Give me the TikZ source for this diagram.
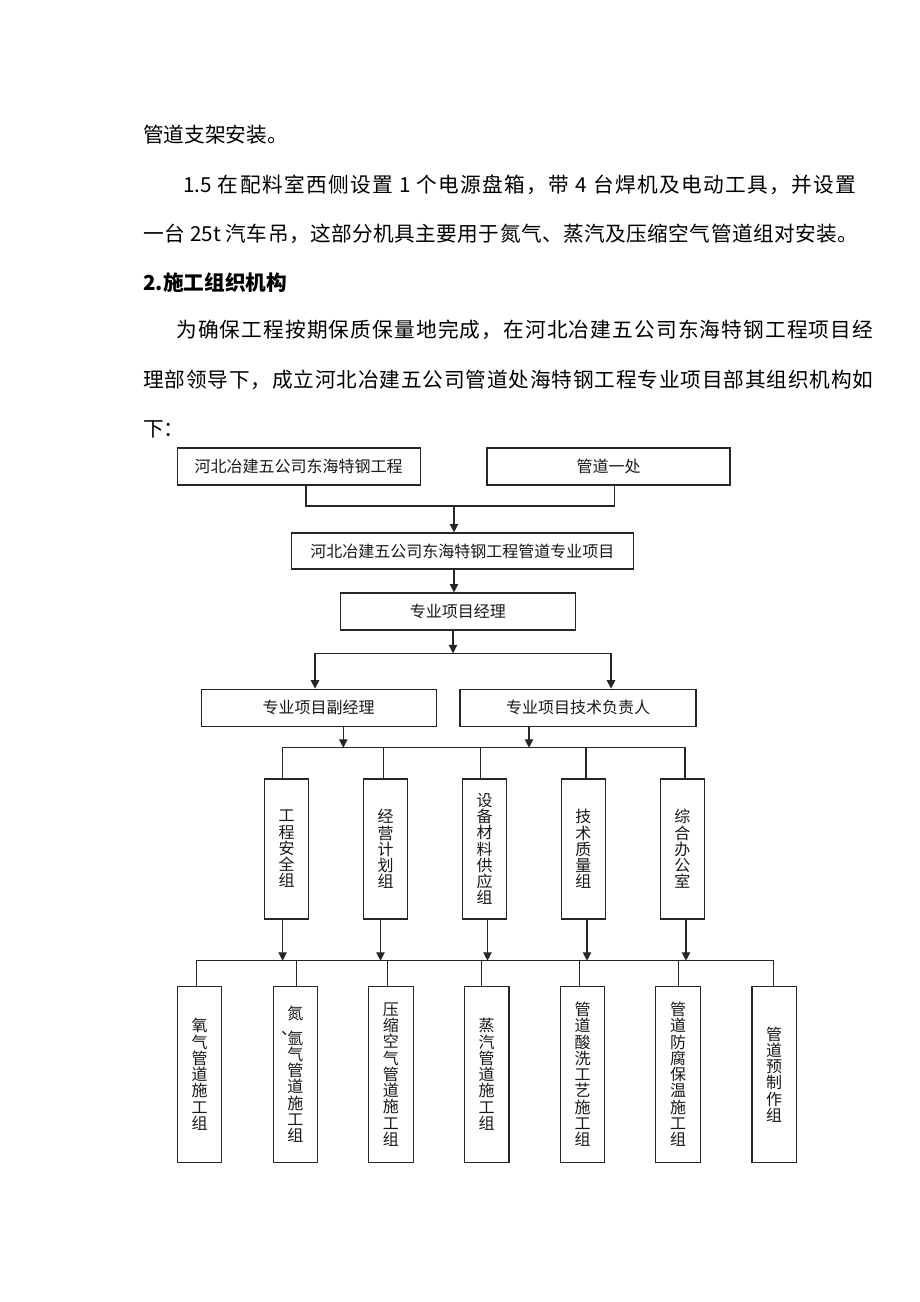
\documentclass[tikz,border=0pt]{standalone}
\usepackage{fontspec}
\setmainfont{Noto Sans CJK SC}
\usetikzlibrary{arrows.meta,calc}
\newcommand\bodyfnt{\fontsize{15.5pt}{18pt}\selectfont}
\newcommand\boxfnt{\fontsize{12pt}{12.2pt}\selectfont}
% spread characters evenly over a box
\def\spendmark{\spend}
\def\spaux#1{\def\sptmp{#1}\ifx\sptmp\spendmark\else\hskip 0pt plus 1fil #1\expandafter\spaux\fi}
\def\spfirst#1{#1\spaux}
\newcommand\spreadline[2]{\hbox to #1{\spfirst#2\spend}}
\begin{document}
\begin{tikzpicture}[x=0.75pt,y=-0.75pt,
  box/.style={draw=black!85,line width=0.9pt,inner sep=0pt,font=\boxfnt,align=center,text=black!90},
  hbox/.style={box,minimum height=27.75pt},
  mbox/.style={box,minimum width=33pt,minimum height=105pt},
  gbox/.style={box,minimum width=33.4pt,minimum height=131.6pt},
  ln/.style={line width=0.9pt,draw=black!85},
  arr/.style={ln,-{Triangle[length=6.3pt,width=6.3pt]}},
  body/.style={anchor=west,inner sep=0pt,font=\bodyfnt,text=black}]
\fill[white] (0,0) rectangle (920,1302);
\path[use as bounding box] (0,0) rectangle (920,1302);
% body text
\node[body] (t1) at (143,135) {管道支架安装。};
\node[body] (t2) at (183,185) {\spreadline{504.75pt}{{1.5\ }在配料室西侧设置{\ 1\ }个电源盘箱，带{\ 4\ }台焊机及电动工具，并设置}};
\node[body] (t3) at (143,234) {\spreadline{536.25pt}{一台{\ 25t\ }汽车吊，这部分机具主要用于氮气、蒸汽及压缩空气管道组对安装。}};
\node[body,font=\bodyfnt\bfseries] (t4) at (143,282.5) {2.施工组织机构};
\node[body] (t5) at (176,330) {\spreadline{522.75pt}{为确保工程按期保质保量地完成，在河北冶建五公司东海特钢工程项目经}};
\node[body] (t6) at (143,380) {\spreadline{547.5pt}{理部领导下，成立河北冶建五公司管道处海特钢工程专业项目部其组织机构如}};
\node[body] (t7) at (143,429) {下：};
% top boxes
\node[hbox,minimum width=182.25pt] (b1) at (298.7,466.5) {河北冶建五公司东海特钢工程};
\node[hbox,minimum width=182.25pt] (b2) at (608.5,466.5) {管道一处};
\node[hbox,minimum width=256.5pt,minimum height=27pt] (b3) at (462.3,551) {河北冶建五公司东海特钢工程管道专业项目};
\node[hbox,minimum width=176.25pt] (b4) at (457.8,611.5) {专业项目经理};
\node[hbox,minimum width=176.25pt] (b5) at (318.7,707.7) {专业项目副经理};
\node[hbox,minimum width=177pt] (b6) at (578,707.7) {专业项目技术负责人};
% middle boxes
\node[mbox] (m1) at (286.5,849) {工\\程\\安\\全\\组};
\node[mbox] (m2) at (385.5,849) {经\\营\\计\\划\\组};
\node[mbox] (m3) at (484.7,849) {设\\备\\材\\料\\供\\应\\组};
\node[mbox] (m4) at (583.3,849) {技\\术\\质\\量\\组};
\node[mbox] (m5) at (682.3,849) {综\\合\\办\\公\\室};
% bottom boxes
\node[gbox] (g1) at (199.6,1074.4) {氧\\气\\管\\道\\施\\工\\组};
\node[gbox] (g2) at (295.4,1074.4) {氮\\[6pt]\llap{︑}氩\\气\\管\\道\\施\\工\\组};
\node[gbox] (g3) at (390.9,1074.4) {压\\缩\\空\\气\\管\\道\\施\\工\\组};
\node[gbox] (g4) at (486.7,1074.4) {蒸\\汽\\管\\道\\施\\工\\组};
\node[gbox] (g5) at (582.5,1074.4) {管\\道\\酸\\洗\\工\\艺\\施\\工\\组};
\node[gbox] (g6) at (678.1,1074.4) {管\\道\\防\\腐\\保\\温\\施\\工\\组};
\node[gbox] (g7) at (774.2,1074.4) {管\\道\\预\\制\\作\\组};
% connectors level 1
\coordinate (j1) at (454,506);
\draw[ln] ($(b1.south)+(7.3,0)$) |- (j1) -| ($(b2.south)+(6,0)$);
\draw[arr] (j1) -- (j1 |- b3.north);
\draw[arr] (b3.south -| j1) -- (b4.north -| j1);
\coordinate (j2) at (453,653.3);
\draw[arr] (b4.south -| j2) -- (j2);
\draw[arr] (j2) -| ($(b5.north)+(-3.7,0)$);
\draw[arr] (j2) -| ($(b6.north)+(33,0)$);
% level 2
\coordinate (h3) at (0,747.7);
\coordinate (e5) at ($(b5.south)+(24.6,0)$);
\coordinate (e6) at ($(b6.south)+(-49,0)$);
\draw[arr] (e5) -- (e5 |- h3);
\draw[arr] (e6) -- (e6 |- h3);
\coordinate (ma1) at ($(m1.north)+(-4.2,0)$);
\coordinate (ma2) at ($(m2.north)+(-2.2,0)$);
\coordinate (ma3) at ($(m3.north)+(-4,0)$);
\coordinate (ma4) at ($(m4.north)+(2.7,0)$);
\coordinate (ma5) at ($(m5.north)+(2.7,0)$);
\draw[ln] (ma1) |- (ma5 |- h3) -- (ma5);
\foreach \i in {2,3,4} {\draw[ln] (ma\i |- h3) -- (ma\i);}
% level 3
\coordinate (h4) at (0,960.7);
\coordinate (mb1) at ($(m1.south)+(-3.9,0)$);
\coordinate (mb2) at ($(m2.south)+(-5,0)$);
\coordinate (mb3) at ($(m3.south)+(2.8,0)$);
\coordinate (mb4) at ($(m4.south)+(3.7,0)$);
\coordinate (mb5) at ($(m5.south)+(3.7,0)$);
\foreach \i in {1,...,5} {\draw[arr] (mb\i) -- (mb\i |- h4);}
\coordinate (ga1) at ($(g1.north)+(-3,0)$);
\coordinate (ga2) at ($(g2.north)+(1,0)$);
\coordinate (ga3) at ($(g3.north)+(-3.1,0)$);
\coordinate (ga4) at ($(g4.north)+(-5.1,0)$);
\coordinate (ga5) at ($(g5.north)+(-2.7,0)$);
\coordinate (ga6) at ($(g6.north)+(0,0)$);
\coordinate (ga7) at ($(g7.north)+(-0.5,0)$);
\draw[ln] (ga1) |- (ga7 |- h4) -- (ga7);
\foreach \i in {2,...,6} {\draw[ln] (ga\i |- h4) -- (ga\i);}
\end{tikzpicture}
\end{document}
